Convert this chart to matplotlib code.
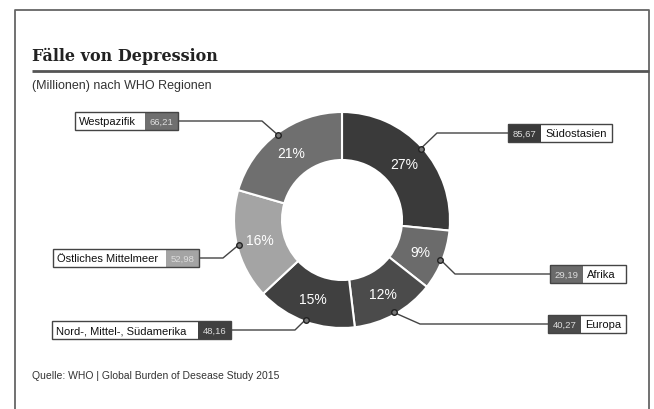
import numpy as np
import matplotlib.pyplot as plt
from matplotlib.patches import Rectangle

plt.rcParams['font.family'] = ['Liberation Sans', 'DejaVu Sans']

# Daten (Millionen Fälle nach WHO Region)
regions = ['Südostasien', 'Afrika', 'Europa', 'Nord-, Mittel-, Südamerika',
           'Östliches Mittelmeer', 'Westpazifik']
values = [85.67, 29.19, 40.27, 48.16, 52.98, 66.21]
value_labels = ['85,67', '29,19', '40,27', '48,16', '52,98', '66,21']
colors = ['#3a3a3a', '#6b6b6b', '#4b4b4b', '#404040', '#a4a4a4', '#6f6f6f']

W, H = 654, 409
def py(y):
    # Pixelkoordinate (von oben) -> Datenkoordinate
    return H - y

# Layout der Beschriftungsboxen (Pixel, von oben gemessen)
box_left = [508, 550, 548, 52, 53, 75]
box_right = [612, 626, 626, 231, 199, 178]
box_y = [133, 274, 324, 330, 258, 121]
elbow_x = [437, 455, 420, 295, 223, 262]
val_w = 33
box_h = 18

fig = plt.figure(figsize=(W / 100, H / 100), dpi=100)
ax = fig.add_axes([0, 0, 1, 1])

cx, cy = 342, py(220)
R, ring = 108, 48
wedges, _ = ax.pie(values, colors=colors, startangle=90, counterclock=False,
                   radius=R, center=(cx, cy),
                   wedgeprops=dict(width=ring, edgecolor='white', linewidth=1.5))
ax.set_xlim(0, W)
ax.set_ylim(0, H)
ax.axis('off')

total = sum(values)
for i, w in enumerate(wedges):
    mid = np.deg2rad((w.theta1 + w.theta2) / 2)
    # Prozentwert im Ring
    rl = R - ring / 2
    ax.text(cx + rl * np.cos(mid), cy + rl * np.sin(mid),
            f'{values[i] / total * 100:.0f}%', color='white', fontsize=10,
            ha='center', va='center_baseline')
    # Markierung + Führungslinie
    mx, my = cx + (R - 2) * np.cos(mid), cy + (R - 2) * np.sin(mid)
    by = py(box_y[i])
    right_side = box_left[i] > cx
    bx = box_left[i] if right_side else box_right[i]
    ax.plot([mx, elbow_x[i], bx], [my, by, by], color='#444444', lw=1, zorder=3)
    ax.plot(mx, my, 'o', ms=4, mfc='#777777', mec='#222222', mew=1, zorder=4)

    # Box: Name (weiß) + Wert (farbig)
    x0, x1 = box_left[i], box_right[i]
    if right_side:
        vx0, nx0, nx1 = x0, x0 + val_w, x1
    else:
        vx0, nx0, nx1 = x1 - val_w, x0, x1 - val_w
    ax.add_patch(Rectangle((nx0, by - box_h / 2), nx1 - nx0, box_h,
                           fc='white', ec='none', zorder=3))
    ax.add_patch(Rectangle((vx0, by - box_h / 2), val_w, box_h,
                           fc=colors[i], ec='none', zorder=3))
    ax.add_patch(Rectangle((x0, by - box_h / 2), x1 - x0, box_h,
                           fc='none', ec='#444444', lw=1, zorder=4))
    ax.text(nx0 + 4, by, regions[i], fontsize=8, color='#111111',
            ha='left', va='center_baseline', zorder=5)
    ax.text(vx0 + val_w / 2, by, value_labels[i], fontsize=6.8, color='#dddddd',
            ha='center', va='center_baseline', zorder=5)

# Rahmen
ax.plot([15, 15, 649, 649], [0, py(10), py(10), 0], color='#666666', lw=1.3)
ax.plot([32, 649], [py(71), py(71)], color='#555555', lw=2,
        solid_capstyle='butt')

ax.text(32, py(56), 'Fälle von Depression', fontsize=11.5, fontweight='bold',
        family=['DejaVu Serif'], color='#222222', ha='left', va='center')
ax.text(32, py(86), '(Millionen) nach WHO Regionen', fontsize=9,
        color='#333333', ha='left', va='center')
ax.text(32, py(376), 'Quelle: WHO | Global Burden of Desease Study 2015',
        fontsize=7.5, color='#333333', ha='left', va='center')

fig.savefig('out.png', dpi=100)
